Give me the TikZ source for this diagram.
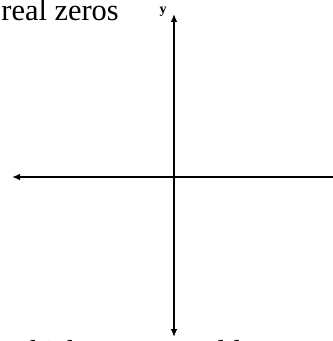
\documentclass[tikz,border=0pt]{standalone}
\usepackage{fontspec}
\setmainfont{Liberation Serif}
\usepackage{tikz}
\usetikzlibrary{arrows.meta, positioning}

\begin{document}
\begin{tikzpicture}[x=0.5pt, y=-0.5pt, >={Latex[length=4pt,width=3.4pt]}]
    \useasboundingbox (0,0) rectangle (332,341);
    % Hệ trục tọa độ
    \coordinate (xl) at (12,177);
    \coordinate (xr) at (339,177);
    \coordinate (yt) at (174,14);
    \coordinate (yb) at (174,337);
    \draw[line width=1pt, ->] (xr) -- (xl);
    \draw[line width=1pt, <->] (yb) -- (yt);
    \node[font=\fontsize{7}{8}\selectfont\bfseries] (ylab) at (163,12) {y};

    % Văn bản
    \node[anchor=base west, inner sep=0pt, font=\fontsize{15.2}{17}\selectfont] (top) at (1,21) {real zeros};
    \node[anchor=base west, inner sep=0pt, font=\fontsize{15.2}{17}\selectfont] (bot) at (1,361) {Which curve would represent};
\end{tikzpicture}
\end{document}
